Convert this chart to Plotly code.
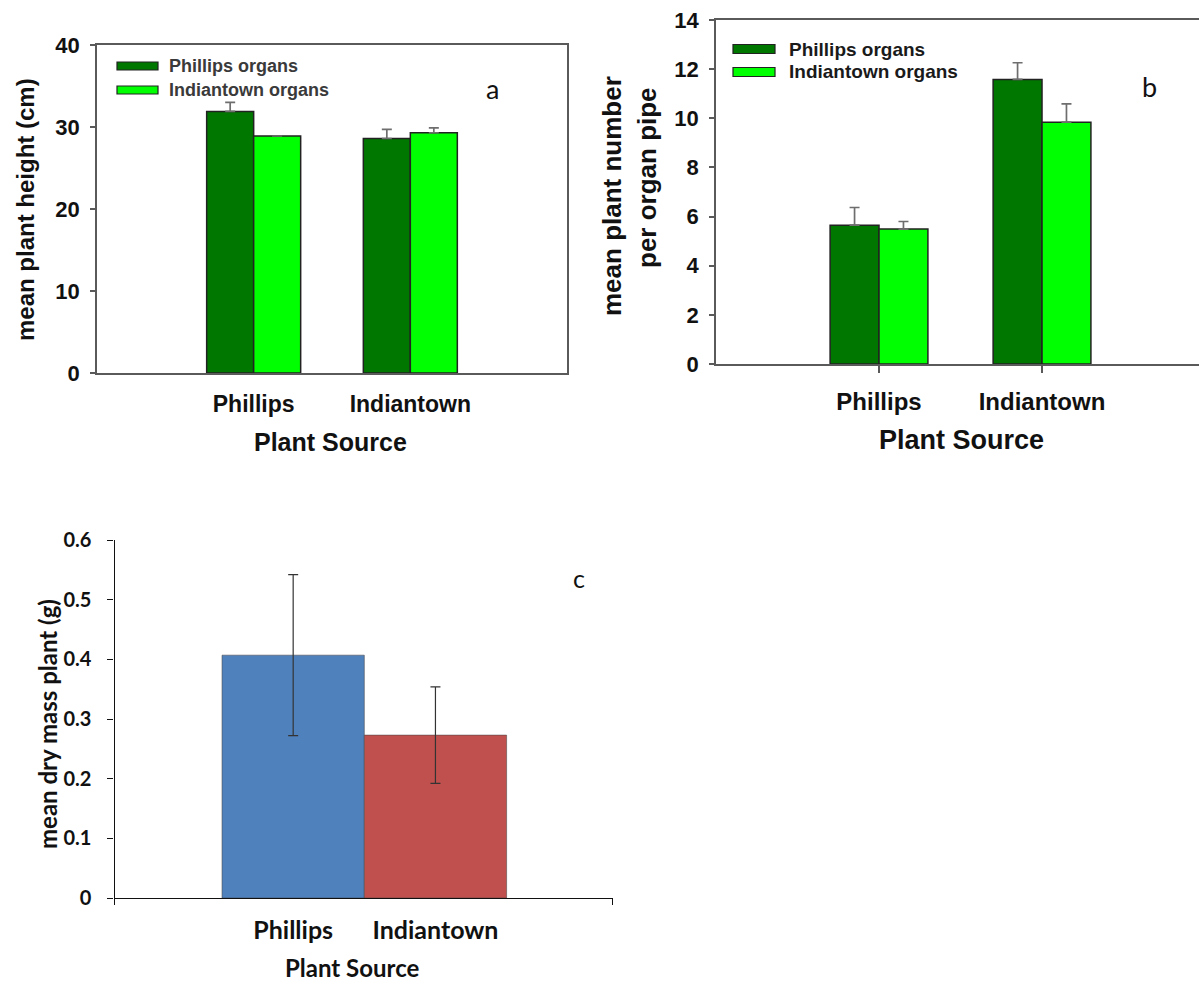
import plotly.graph_objects as go

# ---- data -------------------------------------------------------------
sources = ["Phillips", "Indiantown"]
organ_series = ["Phillips organs", "Indiantown organs"]

# (a) mean plant height (cm), upper standard error
height_phillips_organs = [31.9, 28.6]
height_phillips_err = [1.1, 1.1]
height_indiantown_organs = [28.9, 29.3]
height_indiantown_err = [None, 0.6]

# (b) mean plant number per organ pipe, upper standard error
number_phillips_organs = [5.65, 11.58]
number_phillips_err = [0.72, 0.68]
number_indiantown_organs = [5.49, 9.84]
number_indiantown_err = [0.31, 0.75]

# (c) mean dry mass per plant (g), standard error
dry_mass = [0.407, 0.273]
dry_mass_err = [0.135, 0.081]

# ---- styling ----------------------------------------------------------
W, H = 1199, 984
DARK_GREEN = "#007800"
LIME = "#00FF00"
EDGE = "#222222"
ERR_GREY = "#6e6e6e"
FRAME = "#5a5a5a"
BLUE = "#4F81BD"
RED = "#C0504D"
SANS = "Liberation Sans, Arial, sans-serif"
HUMAN = "Lato, Open Sans, sans-serif"


def fx(p):
    return p / W


def fy(p):
    return 1 - p / H


pos = list(range(len(sources)))

fig = go.Figure()


def grouped(xa, ya, values, errs, color, offset):
    plus = [e if e is not None else float("nan") for e in errs]
    fig.add_trace(go.Bar(
        x=pos, y=values, width=0.3, offset=offset,
        marker=dict(color=color, line=dict(color=EDGE, width=1.5)),
        error_y=dict(type="data", array=plus, arrayminus=[0] * len(plus),
                     symmetric=False, color=ERR_GREY, thickness=1.7, width=5),
        xaxis=xa, yaxis=ya, showlegend=False,
    ))


# panel a
grouped("x", "y", height_phillips_organs, height_phillips_err, DARK_GREEN, -0.3)
grouped("x", "y", height_indiantown_organs, height_indiantown_err, LIME, 0.0)
# panel b
grouped("x2", "y2", number_phillips_organs, number_phillips_err, DARK_GREEN, -0.3)
grouped("x2", "y2", number_indiantown_organs, number_indiantown_err, LIME, 0.0)
# panel c
fig.add_trace(go.Bar(
    x=pos, y=dry_mass, width=1.0,
    marker=dict(color=[BLUE, RED], line=dict(color="rgba(70,70,70,0.55)", width=1)),
    error_y=dict(type="data", array=dry_mass_err, color="#333333", thickness=1.2, width=5),
    xaxis="x3", yaxis="y3", showlegend=False,
))

bold = dict(family=SANS, color="#111111", weight="bold")
hbold = dict(family=HUMAN, color="#111111", weight="bold")
common = dict(showgrid=False, zeroline=False, automargin=False)

fig.update_layout(
    width=W, height=H, autosize=False,
    margin=dict(l=0, r=0, t=0, b=0, pad=0, autoexpand=False),
    paper_bgcolor="white", plot_bgcolor="white",
    barmode="overlay", showlegend=False,
    # panel a
    xaxis=dict(domain=[fx(97), fx(567)], range=[-1, 2], anchor="y",
               tickvals=pos, ticktext=sources, ticks="",
               tickfont=dict(size=23, **bold), ticklabelstandoff=10,
               showline=True, mirror=True, linecolor=FRAME, linewidth=1.6, **common),
    yaxis=dict(domain=[fy(373), fy(45)], range=[0, 40], dtick=10, anchor="x",
               ticks="outside", ticklen=5, tickcolor=FRAME, tickwidth=1.5,
               tickfont=dict(size=22, **bold), ticklabelstandoff=6,
               showline=True, mirror=True, linecolor=FRAME, linewidth=1.6, **common),
    # panel b
    xaxis2=dict(domain=[fx(716), 1.0], range=[-1, 1.963], anchor="y2",
                tickvals=pos, ticktext=sources, ticks="outside", ticklen=7,
                tickcolor=FRAME, tickwidth=1.5,
                tickfont=dict(size=24, **bold), ticklabelstandoff=8,
                showline=True, mirror=True, linecolor=FRAME, linewidth=1.6, **common),
    yaxis2=dict(domain=[fy(364), fy(20)], range=[0, 14], dtick=2, anchor="x2",
                ticks="outside", ticklen=5, tickcolor=FRAME, tickwidth=1.5,
                tickfont=dict(size=22, **bold), ticklabelstandoff=6,
                showline=True, mirror=False, linecolor=FRAME, linewidth=1.6, **common),
    # panel c
    xaxis3=dict(domain=[fx(114.6), fx(612.6)], range=[-1.255, 2.245], anchor="y3",
                tickvals=pos, ticktext=sources, ticks="",
                minor=dict(tickvals=[-1.255, 2.245], ticks="outside", ticklen=6,
                           tickcolor="#111111", tickwidth=1.3),
                tickfont=dict(size=25, **hbold), ticklabelstandoff=10,
                showline=True, linecolor="#111111", linewidth=1.3, **common),
    yaxis3=dict(domain=[fy(898), fy(540)], range=[0, 0.6], dtick=0.1, anchor="x3",
                tickformat="~g",
                ticks="outside", ticklen=6, tickcolor="#111111", tickwidth=1.3,
                tickfont=dict(size=20, **hbold), ticklabelstandoff=12,
                showline=True, linecolor="#111111", linewidth=1.3, **common),
)

ann = []


def text(x, y, s, size, family=SANS, angle=0, weight="bold", color="#111111"):
    ann.append(dict(x=fx(x), y=fy(y), xref="paper", yref="paper", text=s,
                    showarrow=False, textangle=angle, xanchor="center", yanchor="middle",
                    font=dict(size=size, family=family, color=color, weight=weight)))


# axis titles
text(26, 210, "mean plant height (cm)", 24, angle=-90)
text(330, 442, "Plant Source", 25)
text(612, 196, "mean plant number", 26, angle=-90)
text(647, 178, "per organ pipe", 26, angle=-90)
text(961, 440, "Plant Source", 27)
text(47, 724, "<b>mean dry mass plant (g)</b>", 24, family=HUMAN, angle=-90)
text(352, 967, "<b>Plant Source</b>", 24, family=HUMAN)

# panel letters
text(492, 88, "a", 27, family=HUMAN, weight="normal")
text(1149, 87, "b", 27, family=HUMAN, weight="normal")
text(579, 578, "c", 25, family=HUMAN, weight="normal")

# legends drawn as swatch + label
shapes = []


def legend(x0, x1, rows, h, label_x, size, color):
    for (yc, name, fill) in rows:
        shapes.append(dict(type="rect", xref="paper", yref="paper",
                           x0=fx(x0), x1=fx(x1), y0=fy(yc + h / 2), y1=fy(yc - h / 2),
                           fillcolor=fill, line=dict(color=EDGE, width=1.2)))
        ann.append(dict(x=fx(label_x), y=fy(yc), xref="paper", yref="paper", text=name,
                        showarrow=False, xanchor="left", yanchor="middle",
                        font=dict(size=size, family=SANS, color=color, weight="bold")))


legend(117, 158, [(66, organ_series[0], DARK_GREEN), (90, organ_series[1], LIME)],
       8, 167, 18, "#3a3a3a")
legend(733, 775, [(49, organ_series[0], DARK_GREEN), (72, organ_series[1], LIME)],
       9, 787, 19, "#1a1a1a")

fig.update_layout(annotations=ann, shapes=shapes)

fig.write_html("out.html")
